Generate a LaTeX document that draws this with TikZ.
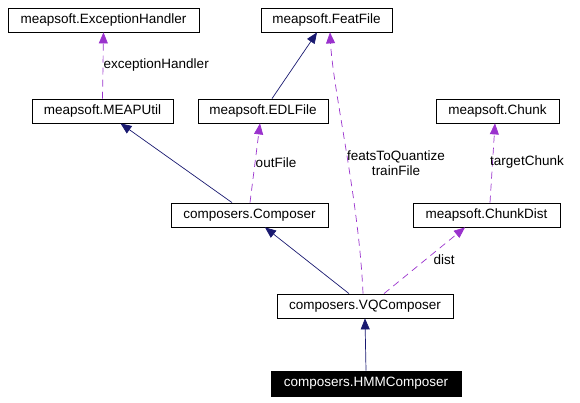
\documentclass[tikz,border=0pt]{standalone}
\usepackage{fontspec}
\setmainfont{Liberation Sans}
\usetikzlibrary{arrows.meta,calc}
\definecolor{navyedge}{RGB}{25,25,112}
\definecolor{purpleedge}{RGB}{154,50,205}
\begin{document}
\begin{tikzpicture}[x=1pt,y=-1pt,
  box/.style={draw=black,fill=white,line width=0.8pt,minimum height=24pt,inner sep=0pt,font=\fontsize{13.5}{15}\selectfont},
  dark/.style={box,fill=black,text=white},
  inherit/.style={draw=navyedge,line width=0.7pt,-{Triangle[length=11pt,width=9pt,fill=navyedge]}},
  uses/.style={draw=purpleedge,line width=0.7pt,dash pattern=on 7pt off 5pt,-{Triangle[length=11pt,width=9pt,fill=purpleedge]}},
  lbl/.style={font=\fontsize{13.5}{15}\selectfont,inner sep=0pt}]
\path[use as bounding box] (0,0) rectangle (580,403);
\node[box,minimum width=191pt] (eh) at (103.5,20) {meapsoft.ExceptionHandler};
\node[box,minimum width=131pt] (ff) at (326.5,20) {meapsoft.FeatFile};
\node[box,minimum width=141pt] (mu) at (102.5,111) {meapsoft.MEAPUtil};
\node[box,minimum width=130pt] (edl) at (263,111) {meapsoft.EDLFile};
\node[box,minimum width=123pt] (chunk) at (497.5,111) {meapsoft.Chunk};
\node[box,minimum width=157pt] (comp) at (249.5,215) {composers.Composer};
\node[box,minimum width=147pt] (cd) at (486.5,215) {meapsoft.ChunkDist};
\node[box,minimum width=176pt] (vq) at (365,306) {composers.VQComposer};
\node[dark,minimum width=190pt,minimum height=25pt] (hmm) at (366,383.5) {composers.HMMComposer};

\draw[uses] (mu.north) -- (eh.south);
\node[lbl,anchor=west] (l1) at (103.5,65) {exceptionHandler};

\draw[inherit] ($(edl.north)+(9,0)$) -- ($(ff.south)+(-9.5,0)$);
\draw[uses] ($(vq.north)+(-2,0)$) .. controls (359,200) and (333,90) .. ($(ff.south)+(3.5,0)$);
\node[lbl] (l2) at (396,157) {featsToQuantize};
\node[lbl] (l3) at (396,171) {trainFile};

\draw[inherit] ($(comp.north)+(-17.5,0)$) -- ($(mu.south)+(18,0)$);
\draw[uses] ($(comp.north)+(0.5,0)$) -- ($(edl.south)+(-3,0)$);
\node[lbl] (l4) at (276,163) {outFile};

\draw[inherit] ($(vq.north)+(-16,0)$) -- ($(comp.south)+(15.5,0)$);
\draw[uses] ($(vq.north)+(19,0)$) -- ($(cd.south)+(-21.5,0)$);
\node[lbl] (l5) at (444,260) {dist};

\draw[uses] ($(cd.north)+(3.5,0)$) -- ($(chunk.south)+(-2.5,0)$);
\node[lbl] (l6) at (527,162) {targetChunk};

\draw[inherit] (hmm.north) -- (vq.south);
\end{tikzpicture}
\end{document}
